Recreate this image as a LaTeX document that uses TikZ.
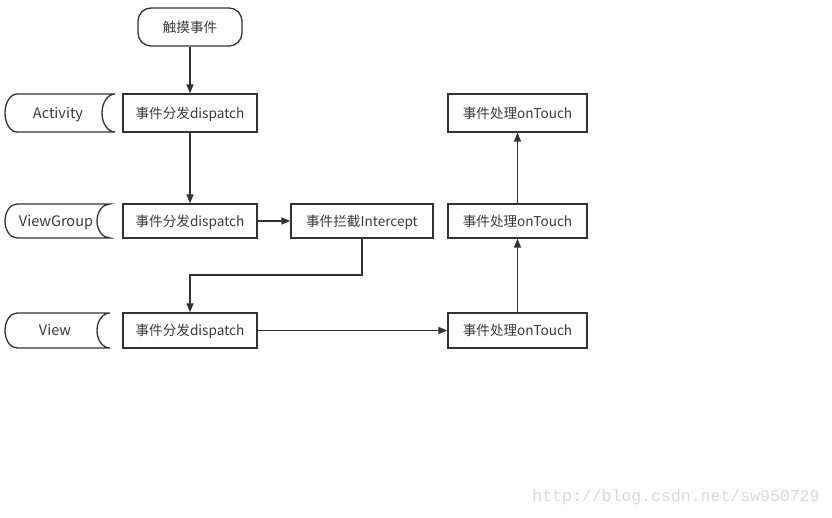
\documentclass[tikz,border=0pt]{standalone}
\usepackage{fontspec}
\setmainfont{Noto Sans CJK SC}
\newfontfamily\wmfont{Liberation Mono}
\usetikzlibrary{arrows.meta}
\definecolor{lc}{HTML}{333333}
\definecolor{tc}{HTML}{3A3A3A}
\definecolor{wm}{HTML}{D9D9D9}
\begin{document}
\begin{tikzpicture}[x=1pt,y=-1pt,
  line/.style={draw=lc, line width=1.3pt},
  arr/.style={draw=lc, line width=1.3pt, -{Triangle[length=9pt,width=7pt]}},
  box/.style={draw=lc, line width=1.3pt, inner sep=0pt, text=tc, text height=12pt, text depth=1pt, font=\fontsize{13.6}{15}\selectfont},
  lbl/.style={inner sep=0pt, text=tc, text height=12.5pt, text depth=1.5pt, font=\fontsize{14.5}{16}\selectfont}]
\useasboundingbox[fill=white] (0,0) rectangle (832,518);

% nodes
\node[box, rounded corners=13pt, minimum width=104pt, minimum height=38pt] (start) at (190,27) {触摸事件};
\node[box, minimum width=134pt, minimum height=38pt] (d1) at (190,113) {事件分发dispatch};
\node[box, minimum width=134pt, minimum height=34pt] (d2) at (190,221) {事件分发dispatch};
\node[box, minimum width=142pt, minimum height=34pt] (ic) at (362,221) {事件拦截Intercept};
\node[box, minimum width=134pt, minimum height=35pt] (d3) at (190,330.5) {事件分发dispatch};
\node[box, minimum width=139pt, minimum height=38pt] (t1) at (517.5,113) {事件处理onTouch};
\node[box, minimum width=139pt, minimum height=34pt] (t2) at (517.5,221) {事件处理onTouch};
\node[box, minimum width=139pt, minimum height=35pt] (t3) at (517.5,330.5) {事件处理onTouch};

% lane labels
\node[lbl] (lA) at (58,113) {Activity};
\node[lbl] (lVG) at (56,221) {ViewGroup};
\node[lbl] (lV) at (55,330.5) {View};
\draw[line] (17,94) -- (115,94) arc[start angle=270, end angle=90, x radius=13, y radius=19] -- (17,132) arc[start angle=90, end angle=270, x radius=12, y radius=19] -- cycle;
\draw[line] (17,204) -- (110,204) arc[start angle=270, end angle=90, x radius=13, y radius=17] -- (17,238) arc[start angle=90, end angle=270, x radius=12, y radius=17] -- cycle;
\draw[line] (17,313) -- (110,313) arc[start angle=270, end angle=90, x radius=13, y radius=17.5] -- (17,348) arc[start angle=90, end angle=270, x radius=12, y radius=17.5] -- cycle;

% connectors
\coordinate (bend) at (362,275);
\draw[arr] (start) -- (d1);
\draw[arr] (d1) -- (d2);
\draw[arr] (d2) -- (ic);
\draw[arr] (ic.south) -- (ic.south |- bend) -| (d3.north);
\draw[arr] (d3) -- (t3);
\draw[arr] (t3) -- (t2);
\draw[arr] (t2) -- (t1);

% watermark
\node[text=wm, font=\wmfont\fontsize{16.5}{18}\selectfont, inner sep=0pt] (wmark) at (676,497) {http://blog.csdn.net/sw950729};
\end{tikzpicture}
\end{document}
